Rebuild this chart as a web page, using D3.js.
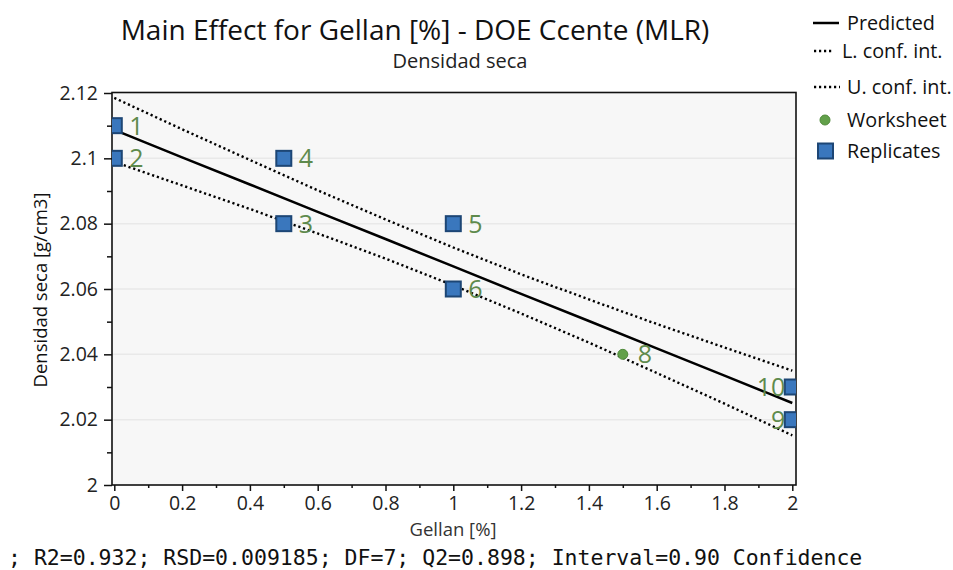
<!DOCTYPE html>
<html><head><meta charset="utf-8">
<script src="https://cdn.jsdelivr.net/npm/d3@7"></script>
<style>body{margin:0;background:#fff}svg{display:block}</style>
</head><body><svg id="c" width="953" height="570"></svg>
<script>
// ---- data ----
const pointIds   = ["1","2","3","4","5","6","8","9","10"];
const pointX     = [0, 0, 0.5, 0.5, 1, 1, 1.5, 2, 2];
const pointY     = [2.11, 2.10, 2.08, 2.10, 2.08, 2.06, 2.04, 2.02, 2.03];
const pointType  = ["Replicates","Replicates","Replicates","Replicates","Replicates","Replicates","Worksheet","Replicates","Replicates"];
const curveX     = [0, 0.2, 0.4, 0.6, 0.8, 1.0, 1.2, 1.4, 1.6, 1.8, 2.0];
const predicted  = [2.1087, 2.1003, 2.0920, 2.0836, 2.0753, 2.0669, 2.0585, 2.0502, 2.0418, 2.0335, 2.0251];
const upperCI    = [2.1185, 2.1089, 2.0995, 2.0902, 2.0813, 2.0727, 2.0645, 2.0568, 2.0493, 2.0421, 2.0350];
const lowerCI    = [2.0989, 2.0917, 2.0845, 2.0770, 2.0693, 2.0611, 2.0525, 2.0436, 2.0343, 2.0249, 2.0152];
const xTicks     = [0, 0.2, 0.4, 0.6, 0.8, 1, 1.2, 1.4, 1.6, 1.8, 2];
const xMinor     = [0.1, 0.3, 0.5, 0.7, 0.9, 1.1, 1.3, 1.5, 1.7, 1.9];
const yTicks     = [2, 2.02, 2.04, 2.06, 2.08, 2.1, 2.12];
const yMinor     = [2.01, 2.03, 2.05, 2.07, 2.09, 2.11];
const titleText  = "Main Effect for Gellan [%] - DOE Ccente (MLR)";
const subtitle   = "Densidad seca";
const xLabel     = "Gellan [%]";
const yLabel     = "Densidad seca [g/cm3]";
const footer     = "; R2=0.932; RSD=0.009185; DF=7; Q2=0.898; Interval=0.90 Confidence";
const legendItems = ["Predicted","L. conf. int.","U. conf. int.","Worksheet","Replicates"];

// ---- layout ----
const svg = d3.select("#c");
const font = "'Open Sans', 'Noto Sans', sans-serif";
const box = {l:112, r:796, t:92.5, b:485};
const x = d3.scaleLinear().domain([0,2]).range([114.3,792.3]);
const y = d3.scaleLinear().domain([2,2.12]).range([485,93]);
const blue = "#3a77bd", blueDark = "#1d4675", green = "#62a04a", labelGreen = "#5e8a4c";

svg.append("rect").attr("x",box.l).attr("y",box.t).attr("width",box.r-box.l).attr("height",box.b-box.t).attr("fill","#f7f7f7");
svg.append("defs").append("clipPath").attr("id","pc").append("rect")
  .attr("x",box.l).attr("y",box.t).attr("width",box.r-box.l).attr("height",box.b-box.t);

// gridlines
svg.append("g").selectAll("line").data(yTicks.slice(1,-1)).join("line")
  .attr("x1",box.l).attr("x2",box.r).attr("y1",d=>y(d)).attr("y2",d=>y(d))
  .attr("stroke","#e9e9e9").attr("stroke-width",1.5);

// axes
const fmt = d => String(+d.toFixed(2));
const yAx = svg.append("g").attr("transform",`translate(${box.l},0)`)
  .call(d3.axisLeft(y).tickValues(yTicks).tickFormat(fmt).tickSize(8).tickPadding(6));
const yAxM = svg.append("g").attr("transform",`translate(${box.l},0)`)
  .call(d3.axisLeft(y).tickValues(yMinor).tickFormat("").tickSize(5));
const xAx = svg.append("g").attr("transform",`translate(0,${box.b})`)
  .call(d3.axisBottom(x).tickValues(xTicks).tickFormat(fmt).tickSize(6).tickPadding(5));
const xAxM = svg.append("g").attr("transform",`translate(0,${box.b})`)
  .call(d3.axisBottom(x).tickValues(xMinor).tickFormat("").tickSize(3));
[yAx,yAxM,xAx,xAxM].forEach(g=>{
  g.select(".domain").remove();
  g.selectAll("line").attr("stroke","#111").attr("stroke-width",1.5);
  g.selectAll("text").attr("font-family",font).attr("font-size",19.5).attr("fill","#222");
});

svg.append("rect").attr("x",box.l).attr("y",box.t).attr("width",box.r-box.l).attr("height",box.b-box.t)
  .attr("fill","none").attr("stroke","#111").attr("stroke-width",1.6);

// lines
const plot = svg.append("g").attr("clip-path","url(#pc)");
const lineGen = arr => d3.line().x((d,i)=>x(curveX[i])).y(d=>y(d))(arr);
plot.append("path").attr("d",lineGen(upperCI)).attr("fill","none").attr("stroke","#000").attr("stroke-width",2.4).attr("stroke-dasharray","2.2,2.8");
plot.append("path").attr("d",lineGen(lowerCI)).attr("fill","none").attr("stroke","#000").attr("stroke-width",2.4).attr("stroke-dasharray","2.2,2.8");
plot.append("path").attr("d",lineGen(predicted)).attr("fill","none").attr("stroke","#000").attr("stroke-width",2.5);

// points
const pts = pointIds.map((id,i)=>({id, x:pointX[i], y:pointY[i], t:pointType[i]}));
plot.selectAll("rect.rep").data(pts.filter(p=>p.t==="Replicates")).join("rect").attr("class","rep")
  .attr("x",d=>x(d.x)-7.5).attr("y",d=>y(d.y)-7.5).attr("width",15).attr("height",15)
  .attr("fill",blue).attr("stroke",blueDark).attr("stroke-width",2);
plot.selectAll("circle.ws").data(pts.filter(p=>p.t==="Worksheet")).join("circle").attr("class","ws")
  .attr("cx",d=>x(d.x)).attr("cy",d=>y(d.y)).attr("r",5).attr("fill",green).attr("stroke","#4f8a3a").attr("stroke-width",1);
svg.append("g").selectAll("text").data(pts).join("text")
  .attr("x",d=> d.x>=2 ? x(d.x)-7 : x(d.x)+15)
  .attr("y",d=>y(d.y)+9)
  .attr("text-anchor",d=> d.x>=2 ? "end":"start")
  .attr("font-family",font).attr("font-size",25).attr("fill",labelGreen)
  .text(d=>d.id);

// titles
svg.append("text").attr("x",415).attr("y",40).attr("text-anchor","middle").attr("font-family",font)
  .attr("font-size",28).attr("fill","#111").text(titleText);
svg.append("text").attr("x",460).attr("y",68).attr("text-anchor","middle").attr("font-family",font)
  .attr("font-size",20).attr("fill","#222").text(subtitle);
svg.append("text").attr("x",453).attr("y",536).attr("text-anchor","middle").attr("font-family",font)
  .attr("font-size",18.5).attr("fill","#333").text(xLabel);
svg.append("text").attr("transform","translate(47,290) rotate(-90)").attr("text-anchor","middle").attr("font-family",font)
  .attr("font-size",18.5).attr("fill","#111").text(yLabel);
svg.append("text").attr("x",8).attr("y",565).attr("font-family","'DejaVu Sans Mono', 'Liberation Mono', monospace")
  .attr("font-size",21.5).attr("fill","#111").text(footer);

// legend
const lg = svg.append("g");
const ly = [23, 51, 87, 120, 151];
lg.append("line").attr("x1",813).attr("x2",839).attr("y1",ly[0]).attr("y2",ly[0]).attr("stroke","#000").attr("stroke-width",2.5);
lg.append("line").attr("x1",814).attr("x2",834).attr("y1",ly[1]).attr("y2",ly[1]).attr("stroke","#000").attr("stroke-width",2.4).attr("stroke-dasharray","2.2,2.8");
lg.append("line").attr("x1",814).attr("x2",840).attr("y1",ly[2]).attr("y2",ly[2]).attr("stroke","#000").attr("stroke-width",2.4).attr("stroke-dasharray","2.2,2.8");
lg.append("circle").attr("cx",825).attr("cy",ly[3]).attr("r",5).attr("fill",green).attr("stroke","#4f8a3a");
lg.append("rect").attr("x",818).attr("y",ly[4]-7.5).attr("width",15).attr("height",15).attr("fill",blue).attr("stroke",blueDark).attr("stroke-width",2);
const lx = [847, 842, 847, 847, 847];
lg.selectAll("text").data(legendItems).join("text")
  .attr("x",(d,i)=>lx[i]).attr("y",(d,i)=>ly[i]+7)
  .attr("font-family",font).attr("font-size",19.8).attr("fill","#111").text(d=>d);
</script></body></html>
